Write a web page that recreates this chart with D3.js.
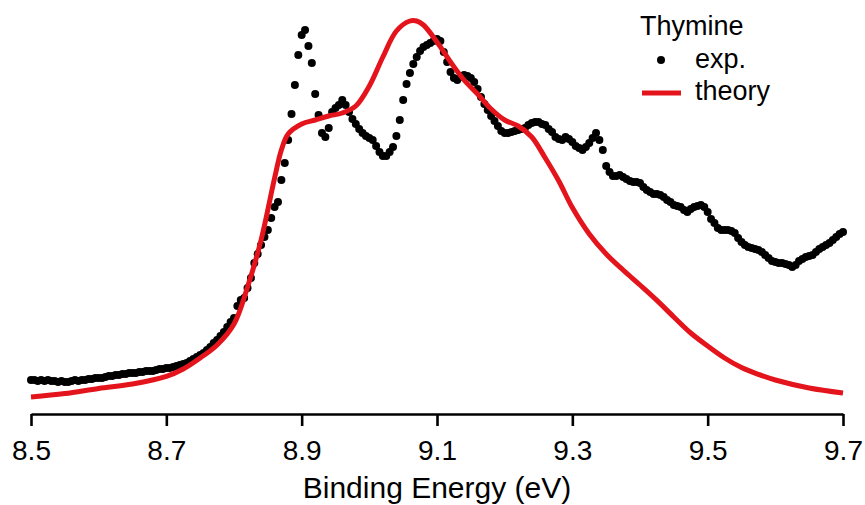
<!DOCTYPE html>
<html>
<head>
<meta charset="utf-8">
<script src="https://cdn.jsdelivr.net/npm/d3@7"></script>
<style>
    body { margin: 0; background: #fff; }
    text { font-family: Arial, "Liberation Sans", sans-serif; fill: #000; }
</style>
</head>
<body>
<svg id="chart-svg" width="865" height="505"></svg>
<script>

// Experimental spectrum, one reading every 0.005 eV starting at 8.5 eV
const expStart = 8.5;
const expStep = 0.005;
const expIntensity = [
    8.5, 8.5, 8.25, 8.5, 8.25, 8.5, 8.25, 8.25, 8.0, 8.25,
    8.0, 8.0, 8.25, 8.5, 8.25, 8.5, 8.5, 8.75, 8.75, 9.0,
    9.0, 9.0, 9.25, 9.5, 9.5, 9.75, 9.75, 10.0, 10.0, 10.25,
    10.25, 10.25, 10.5, 10.5, 10.75, 10.75, 10.75, 11.0, 11.25, 11.25,
    11.5, 11.5, 11.75, 12.0, 12.25, 12.5, 12.75, 13.25, 13.75, 14.25,
    14.75, 15.25, 16.0, 16.75, 17.75, 18.5, 19.5, 20.5, 21.75, 23.0,
    24.0, 27.0, 28.5, 29.0, 31.5, 34.0, 37.75, 40.0, 42.25, 44.25,
    46.0, 49.0, 51.75, 53.0, 58.5, 62.75, 68.5, 75.0, 82.25, 89.75,
    94.75, 96.0, 92.0, 87.75, 80.0, 74.75, 70.25, 69.25, 71.5, 75.5,
    76.5, 77.25, 78.5, 77.25, 75.5, 73.75, 72.5, 71.25, 70.25, 69.5,
    69.0, 68.5, 67.0, 65.5, 64.5, 64.5, 65.5, 66.75, 69.5, 73.5,
    78.5, 82.5, 85.25, 87.5, 89.25, 90.75, 91.75, 92.25, 92.75, 93.25,
    93.75, 93.25, 90.5, 88.0, 85.5, 84.0, 83.5, 84.25, 84.75, 84.5,
    84.0, 83.0, 81.25, 79.25, 77.5, 76.0, 74.5, 73.25, 72.0, 70.75,
    70.25, 70.25, 70.5, 70.75, 71.0, 71.25, 71.5, 72.25, 72.75, 73.0,
    73.0, 72.5, 72.25, 71.25, 70.5, 69.25, 68.75, 68.5, 69.25, 68.75,
    68.0, 67.0, 66.5, 66.0, 66.75, 67.75, 69.0, 70.25, 68.5, 66.0,
    62.0, 60.5, 59.5, 59.5, 59.75, 59.25, 58.75, 58.25, 58.0, 58.0,
    57.75, 56.75, 56.0, 55.5, 55.0, 55.0, 54.75, 54.25, 53.5, 53.0,
    52.25, 52.0, 51.75, 51.0, 50.5, 51.25, 51.75, 52.0, 52.25, 51.75,
    50.5, 48.75, 47.75, 46.5, 46.0, 46.0, 46.0, 45.75, 45.25, 44.0,
    43.0, 42.25, 41.75, 41.5, 41.25, 41.0, 40.5, 39.75, 39.0, 38.25,
    38.0, 37.75, 37.75, 37.5, 37.25, 36.75, 37.25, 38.25, 38.75, 39.25,
    39.5, 39.75, 40.5, 41.25, 41.75, 42.25, 42.75, 43.5, 44.25, 45.0,
    45.5
];

// Theory curve, read at these energies
const theoryEnergy = [
    8.50, 8.55, 8.60, 8.65, 8.70, 8.725, 8.75, 8.775, 8.80, 8.82,
    8.84, 8.86, 8.87, 8.88, 8.90, 8.92, 8.94, 8.96, 8.98, 9.00,
    9.02, 9.04, 9.06, 9.07, 9.08, 9.10, 9.12, 9.14, 9.16, 9.18,
    9.20, 9.22, 9.24, 9.26, 9.28, 9.30, 9.325, 9.35, 9.375, 9.40,
    9.425, 9.45, 9.475, 9.50, 9.525, 9.55, 9.575, 9.60, 9.65, 9.70
];
const theoryIntensity = [
    4.25, 5.1, 6.4, 7.5, 9.4, 11.25, 14.0, 17.25, 22.5, 31.75,
    43.5, 59.0, 66.0, 70.0, 72.5, 73.5, 74.5, 75.25, 77.0, 82.0,
    89.25, 95.75, 98.25, 98.25, 97.25, 93.0, 88.0, 83.5, 80.0, 76.25,
    73.5, 72.0, 69.25, 64.0, 58.25, 51.6, 45.0, 40.0, 36.0, 32.25,
    28.4, 24.25, 20.25, 17.0, 14.0, 11.6, 9.9, 8.5, 6.5, 5.25
];

const xTicks = [8.5, 8.7, 8.9, 9.1, 9.3, 9.5, 9.7];
const xTitle = "Binding Energy (eV)";
const legendTitle = "Thymine";
const legendLabels = ["exp.", "theory"];

class SpectrumChart
{
    constructor(svgId)
    {
        this.svg = d3.select(svgId);

        this.x = d3.scaleLinear().domain([8.5, 9.7]).range([31, 843]);
        this.y = d3.scaleLinear().domain([0, 100]).range([414, 14]);

        this.red = "#e3141b";

        this.expData = expIntensity.map((v, i) => ({ energy: expStart + i * expStep, value: v }));
        this.theoryData = theoryEnergy.map((e, i) => ({ energy: e, value: theoryIntensity[i] }));
    }

    drawAxis()
    {
        const axis = d3.axisBottom(this.x)
            .tickValues(xTicks)
            .tickFormat(d3.format(".1f"))
            .tickSize(12)
            .tickSizeOuter(0);

        const g = this.svg.append("g")
            .attr("transform", `translate(0,${this.y(0)})`)
            .call(axis);

        g.select(".domain")
            .attr("stroke", "#000")
            .attr("stroke-width", 2.6);

        g.selectAll(".tick line")
            .attr("stroke", "#000")
            .attr("stroke-width", 2.6);

        g.selectAll(".tick text")
            .attr("y", 46)
            .attr("dy", null)
            .style("font-size", "28px")
            .style("font-family", "Arial, 'Liberation Sans', sans-serif")
            .attr("fill", "#000");

        // title sits right at the bottom edge, as in the original figure
        this.svg.append("text")
            .attr("x", (this.x.range()[0] + this.x.range()[1]) / 2)
            .attr("y", 498)
            .attr("text-anchor", "middle")
            .style("font-size", "30px")
            .text(xTitle);
    }

    drawData()
    {
        // experimental points go underneath the theory curve
        this.svg.append("g")
            .selectAll("circle")
            .data(this.expData)
            .join("circle")
            .attr("cx", d => this.x(d.energy))
            .attr("cy", d => this.y(d.value))
            .attr("r", 4)
            .attr("fill", "#000");

        const line = d3.line()
            .x(d => this.x(d.energy))
            .y(d => this.y(d.value))
            .curve(d3.curveCatmullRom.alpha(0.5));

        this.svg.append("path")
            .datum(this.theoryData)
            .attr("d", line)
            .attr("fill", "none")
            .attr("stroke", this.red)
            .attr("stroke-width", 5)
            .attr("stroke-linejoin", "round");
    }

    drawLegend()
    {
        const legend = this.svg.append("g").attr("id", "legend");

        legend.append("text")
            .attr("x", 640)
            .attr("y", 35)
            .style("font-size", "27px")
            .text(legendTitle);

        legend.append("circle")
            .attr("cx", 661)
            .attr("cy", 60)
            .attr("r", 4)
            .attr("fill", "#000");

        legend.append("line")
            .attr("x1", 642)
            .attr("x2", 681)
            .attr("y1", 93)
            .attr("y2", 93)
            .attr("stroke", this.red)
            .attr("stroke-width", 5);

        legend.selectAll("text.entry")
            .data(legendLabels)
            .join("text")
            .attr("class", "entry")
            .attr("x", 695)
            .attr("y", (d, i) => 68 + i * 32)
            .style("font-size", "27px")
            .text(d => d);
    }
}

const chart = new SpectrumChart("#chart-svg");
chart.drawData();
chart.drawAxis();
chart.drawLegend();
</script>
</body>
</html>
